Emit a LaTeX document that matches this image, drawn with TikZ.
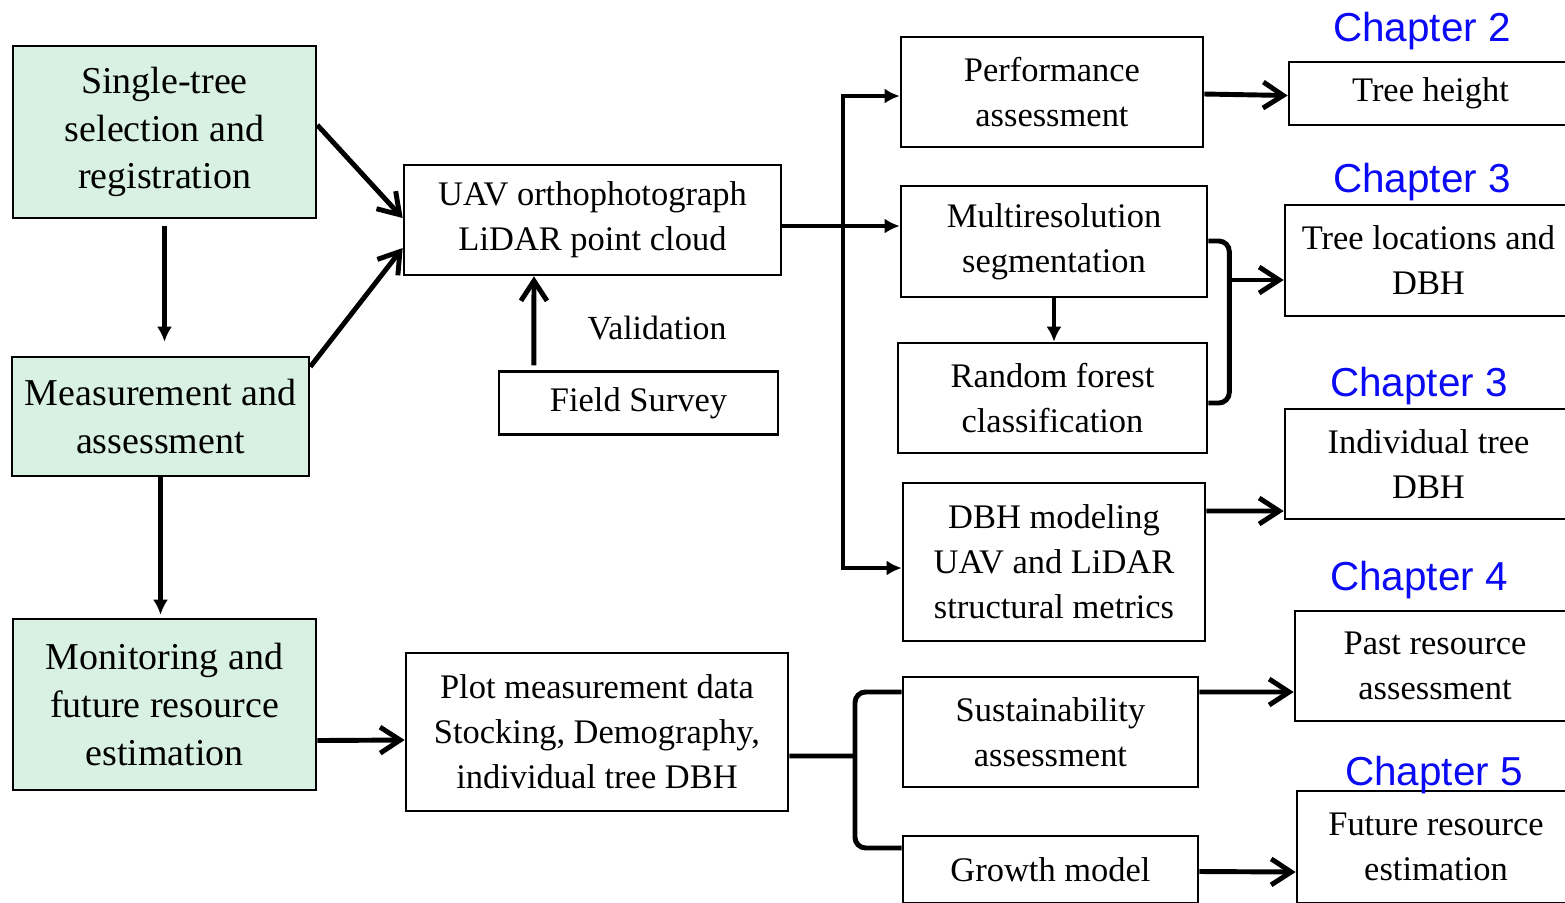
\documentclass[tikz,border=0pt]{standalone}
\usepackage{fontspec}
\setmainfont{Liberation Serif}
\newfontfamily\chapfont{Liberation Sans}
\usetikzlibrary{arrows.meta}
\definecolor{boxgreen}{RGB}{217,241,227}
\definecolor{chapblue}{RGB}{10,10,245}

\begin{document}
\begin{tikzpicture}[x=0.01cm, y=-0.01cm,
  box/.style={draw=black, line width=0.7pt, align=center, inner sep=0pt, font=\fontsize{9.8}{12.8}\selectfont},
  stage/.style={box, fill=boxgreen, font=\fontsize{10.8}{13.6}\selectfont},
  chap/.style={text=chapblue, font=\chapfont\fontsize{11.5}{13}\selectfont},
  flow/.style={-{Latex[length=1.5mm,width=1.5mm]}, line width=1.4pt},
  link/.style={-{Straight Barb[length=2mm,width=2.6mm]}, line width=1.4pt},
  joint/.style={line width=1.4pt, rounded corners=3pt}]
\useasboundingbox (0,0) rectangle (1565,902);
\clip (0,0) rectangle (1565,902);
% left column
\node[stage, minimum width=3.03cm, minimum height=1.72cm] (select) at (164.5,132) {Single-tree\\selection and\\registration};
\node[stage, minimum width=2.97cm, minimum height=1.19cm] (measure) at (160.5,416.5) {Measurement and\\assessment};
\node[stage, minimum width=3.03cm, minimum height=1.71cm] (monitor) at (164.5,704.5) {Monitoring and\\future resource\\estimation};
% data
\node[box, minimum width=3.77cm, minimum height=1.10cm] (uav) at (592.5,220) {UAV orthophotograph\\LiDAR point cloud};
\node[box, minimum width=2.79cm, minimum height=0.63cm] (field) at (638.5,403) {Field Survey};
\node[font=\fontsize{9.6}{12}\selectfont] (valid) at (657,328) {Validation};
\node[box, minimum width=3.82cm, minimum height=1.58cm] (plot) at (597,732) {Plot measurement data\\Stocking, Demography,\\individual tree DBH};
% methods
\node[box, minimum width=3.02cm, minimum height=1.10cm] (perf) at (1052,92) {Performance\\assessment};
\node[box, minimum width=3.06cm, minimum height=1.11cm] (mrs) at (1054,241.5) {Multiresolution\\segmentation};
\node[box, minimum width=3.09cm, minimum height=1.10cm] (rf) at (1052.5,398) {Random forest\\classification};
\node[box, minimum width=3.02cm, minimum height=1.58cm] (dbhmod) at (1054,562) {DBH modeling\\UAV and LiDAR\\structural metrics};
\node[box, minimum width=2.95cm, minimum height=1.10cm] (sust) at (1050.5,732) {Sustainability\\assessment};
\node[box, minimum width=2.95cm, minimum height=0.67cm] (growth) at (1050.5,869.5) {Growth model};
% results
\node[box, minimum width=2.83cm, minimum height=0.63cm] (height) at (1430.5,93.5) {Tree height};
\node[box, minimum width=2.87cm, minimum height=1.11cm] (loc) at (1428.5,260.5) {Tree locations and\\DBH};
\node[box, minimum width=2.87cm, minimum height=1.10cm] (indiv) at (1428.5,464) {Individual tree\\DBH};
\node[box, minimum width=2.80cm, minimum height=1.10cm] (past) at (1435,666) {Past resource\\assessment};
\node[box, minimum width=2.78cm, minimum height=1.12cm] (future) at (1436,847) {Future resource\\estimation};
\node[chap] (ch2) at (1422,31) {Chapter 2};
\node[chap] (ch3a) at (1422,182) {Chapter 3};
\node[chap] (ch3b) at (1419,386) {Chapter 3};
\node[chap] (ch4) at (1419,580) {Chapter 4};
\node[chap] (ch5) at (1434,775) {Chapter 5};
% connectors
\draw[link] ([yshift=0.7mm]select.east) -- ([yshift=0.2mm]uav.west);
\draw[link] ([yshift=-1.1mm]measure.north east) -- ([yshift=-2.8mm]uav.west);
\draw[flow] ([yshift=-0.7mm]select.south) -- ([yshift=1.4mm]select.south |- measure.north);
\draw[flow] (measure.south) -- ([yshift=0.3mm]measure.south |- monitor.north);
\draw[link] ([yshift=-3.6mm]monitor.east) -- ([yshift=-0.8mm]plot.west);
\draw[link] ([xshift=-10.45mm,yshift=0.5mm]field.north) -- ([xshift=-5.85mm]uav.south);
\coordinate (fork) at (843,226);
\draw[flow] ([yshift=-0.6mm]uav.east) -- ([yshift=-0.6mm]uav.east -| mrs.west);
\draw[flow] (fork) |- ([yshift=-0.4mm]perf.west);
\draw[flow] (fork) |- ([yshift=-0.6mm]dbhmod.west);
\draw[flow] (mrs.south) -- (mrs.south |- rf.north);
\draw[joint] ([yshift=0.05mm]mrs.east) -- ++(21,0) |- ([yshift=-0.5mm]rf.east);
\coordinate (brace) at (1228,280);
\draw[link] (brace) -- (brace -| loc.west);
\draw[link] ([yshift=-0.2mm]perf.east) -- ([yshift=-0.2mm]height.west);
\draw[link] ([yshift=5.1mm]dbhmod.east) -- ([yshift=-4.7mm]indiv.west);
\coordinate (fork2) at (855,756);
\draw[joint] ([yshift=-2.4mm]plot.east) -- (fork2);
\draw[joint] ([yshift=4.0mm]sust.west) -| (fork2) |- ([yshift=2.15mm]growth.west);
\draw[link] ([yshift=4.0mm]sust.east) -- ([yshift=-2.6mm]past.west);
\draw[link] ([yshift=-0.2mm]growth.east) -- ([yshift=-2.5mm]future.west);
\end{tikzpicture}
\end{document}
